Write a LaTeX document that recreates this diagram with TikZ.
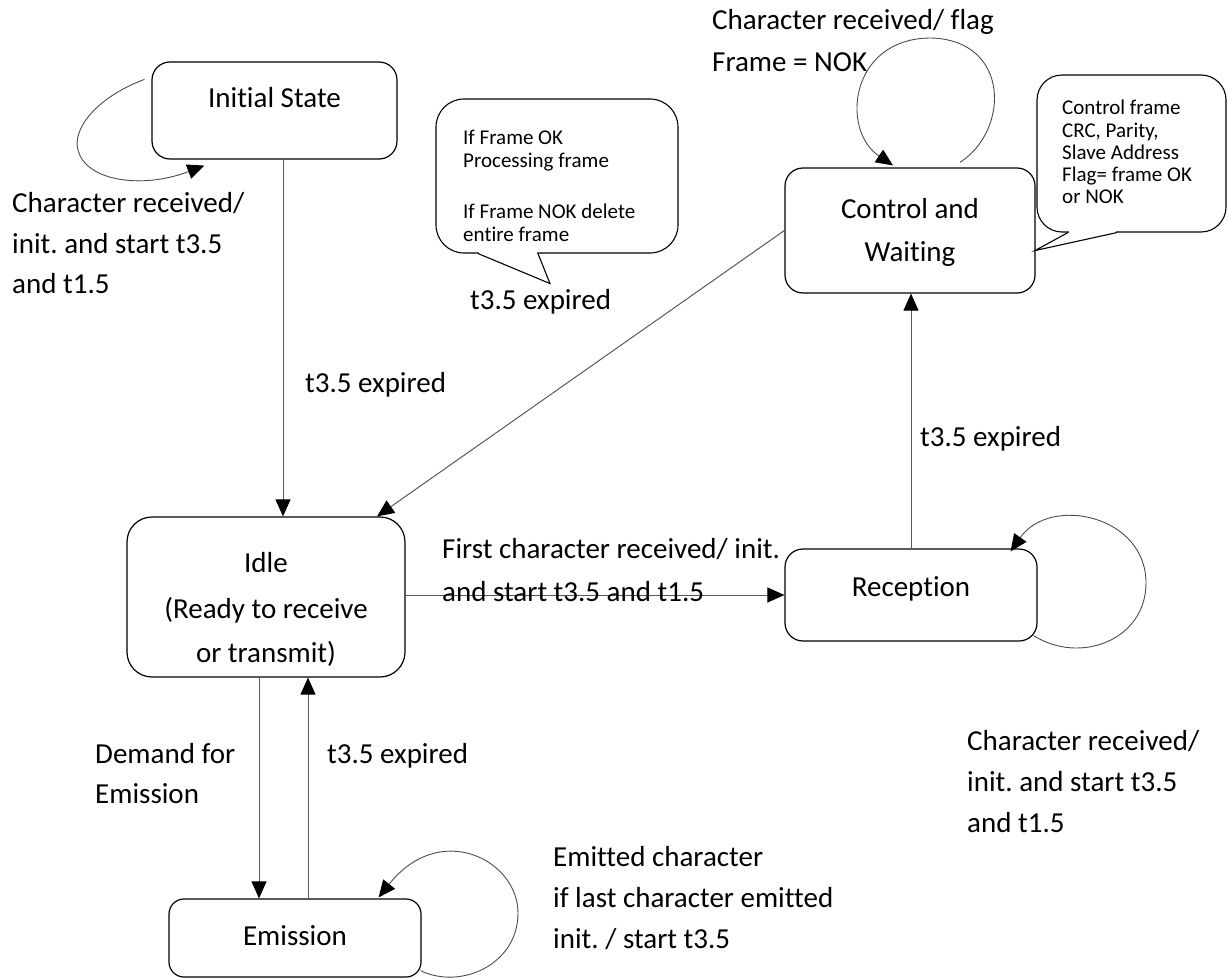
\documentclass[tikz,border=0pt]{standalone}
\usepackage{fontspec}
\setmainfont{Carlito}[Ligatures=NoCommon]
\usetikzlibrary{arrows.meta,calc}
\frenchspacing
\begin{document}
\begin{tikzpicture}[x=1pt,y=-1pt,
  state/.style={draw=black, line width=1.2pt, rounded corners=18pt, inner sep=0pt, fill=white},
  callbox/.style={draw=black, line width=1.1pt, inner sep=0pt},
  conn/.style={draw=black!65, line width=1pt, -{Triangle[length=17pt,width=15pt,color=black]}},
  loop/.style={draw=black!70, line width=0.9pt, -{Triangle[length=17pt,width=15pt,color=black]}},
  lbl/.style={font=\fontsize{29}{35}\selectfont, inner sep=0pt, anchor=base west},
  stxt/.style={font=\fontsize{29}{35}\selectfont, inner sep=0pt, anchor=base},
  ntxt/.style={font=\fontsize{21}{25}\selectfont, inner sep=0pt, anchor=base west}]
\useasboundingbox (0,0) rectangle (1228,979);

% states
\node[state, minimum width=245pt, minimum height=97pt] (initial) at (274.5,110.5) {};
\node[state, minimum width=278pt, minimum height=160pt, rounded corners=25pt] (idle) at (266,597) {};
\node[state, minimum width=250pt, minimum height=125pt] (control) at (910,230.5) {};
\node[state, minimum width=252pt, minimum height=92pt] (reception) at (911,595) {};
\node[state, minimum width=252pt, minimum height=78pt, rounded corners=15pt] (emission) at (295,938) {};

\node[stxt] (tInitial) at (274.5,108) {Initial State};
\node[stxt] (tControlA) at (910,218) {Control and};
\node[stxt] (tControlB) at (910,261) {Waiting};
\node[stxt] (tIdleA) at (266,572) {Idle};
\node[stxt] (tIdleB) at (266,618) {(Ready to receive};
\node[stxt] (tIdleC) at (266,662) {or transmit)};
\node[stxt] (tReception) at (911,596) {Reception};
\node[stxt] (tEmission) at (295,945) {Emission};

% transitions between states
\draw[conn] ([xshift=8.5pt]initial.south) -- ([xshift=8.5pt]initial.south |- idle.north);
\draw[conn] (control.west) -- ([xshift=111pt]idle.north);
\draw[conn] (idle.east |- reception.west) -- (reception.west);
\draw[conn] (reception.north) -- (reception.north |- control.south);
\draw[conn] ([xshift=-7pt]idle.south) -- ([xshift=-7pt]idle.south |- emission.north);
\draw[conn] ([xshift=42pt]idle.south |- emission.north) -- ([xshift=42pt]idle.south);

% self loops
\draw[loop] ($(initial.north west)+(-7,18)$) .. controls (95,98) and (72,130) .. (78,150)
  .. controls (85,180) and (140,190) .. ($(initial.south west)+(53,6)$);
\draw[loop] ($(control.north)+(50,-5)$) .. controls (1010,130) and (1010,40) .. (931,38)
  .. controls (850,38) and (840,130) .. ($(control.north)+(-17,-2)$);
\draw[loop] ($(reception.south east)+(-4,-6)$) .. controls (1080,665) and (1146,640) .. (1146,583)
  .. controls (1146,515) and (1050,495) .. ($(reception.north east)+(-27,3)$);
\draw[loop] ($(emission.south east)+(-1,-7)$) .. controls (460,990) and (518,965) .. (518,913)
  .. controls (518,860) and (440,820) .. ($(emission.north east)+(-43,-1)$);

% note callouts
\node[callbox, minimum width=242pt, minimum height=154pt, rounded corners=28pt] (noteA) at (557,176) {};
\fill[white] ($(noteA.south)+(-78,-2)$) rectangle ($(noteA.south)+(-20,2)$);
\draw[line width=1.1pt] ($(noteA.south)+(-79,0)$) -- ($(noteA.south)+(-7,30)$) -- ($(noteA.south)+(-19,0)$);
\node[callbox, minimum width=189pt, minimum height=157pt, rounded corners=25pt] (noteB) at (1131.5,153.5) {};
\fill[white] ($(noteB.south)+(-62.5,-2)$) rectangle ($(noteB.south)+(-15.5,2)$);
\draw[line width=1.1pt] ($(noteB.south)+(-14.5,0)$) -- ($(noteB.south)+(-96.5,18)$) -- ($(noteB.south)+(-63.5,0)$);

\node[ntxt] (nA1) at (463,145) {If Frame OK};
\node[ntxt] (nA2) at (463,167) {Processing frame};
\node[ntxt] (nA3) at (463,218) {If Frame NOK delete};
\node[ntxt] (nA4) at (463,241) {entire frame};
\node[ntxt] (nB1) at (1062,115) {Control frame};
\node[ntxt] (nB2) at (1062,137) {CRC, Parity,};
\node[ntxt] (nB3) at (1062,159) {Slave Address};
\node[ntxt] (nB4) at (1062,181) {Flag= frame OK};
\node[ntxt] (nB5) at (1062,203) {or NOK};

% transition labels
\node[lbl] (lInitA) at (12,212) {Character received/};
\node[lbl] (lInitB) at (12,253) {init. and start t3.5};
\node[lbl] (lInitC) at (12,293) {and t1.5};
\node[lbl] (lDown) at (305,392) {t3.5 expired};
\node[lbl] (lDiag) at (470,309) {t3.5 expired};
\node[lbl] (lFirstA) at (442,558) {First character received/ init.};
\node[lbl] (lFirstB) at (442,601) {and start t3.5 and t1.5};
\node[lbl] (lUp) at (920,446) {t3.5 expired};
\node[lbl] (lRecA) at (967,750) {Character received/};
\node[lbl] (lRecB) at (967,791) {init. and start t3.5};
\node[lbl] (lRecC) at (967,832) {and t1.5};
\node[lbl] (lDemA) at (95,763) {Demand for};
\node[lbl] (lDemB) at (95,803) {Emission};
\node[lbl] (lBack) at (327,763) {t3.5 expired};
\node[lbl] (lEmA) at (553,866) {Emitted character};
\node[lbl] (lEmB) at (553,907) {if last character emitted};
\node[lbl] (lEmC) at (553,948) {init. / start t3.5};
\node[lbl] (lCtlA) at (712,30) {Character received/ flag};
\node[lbl] (lCtlB) at (712,72) {Frame = NOK};
\end{tikzpicture}
\end{document}
